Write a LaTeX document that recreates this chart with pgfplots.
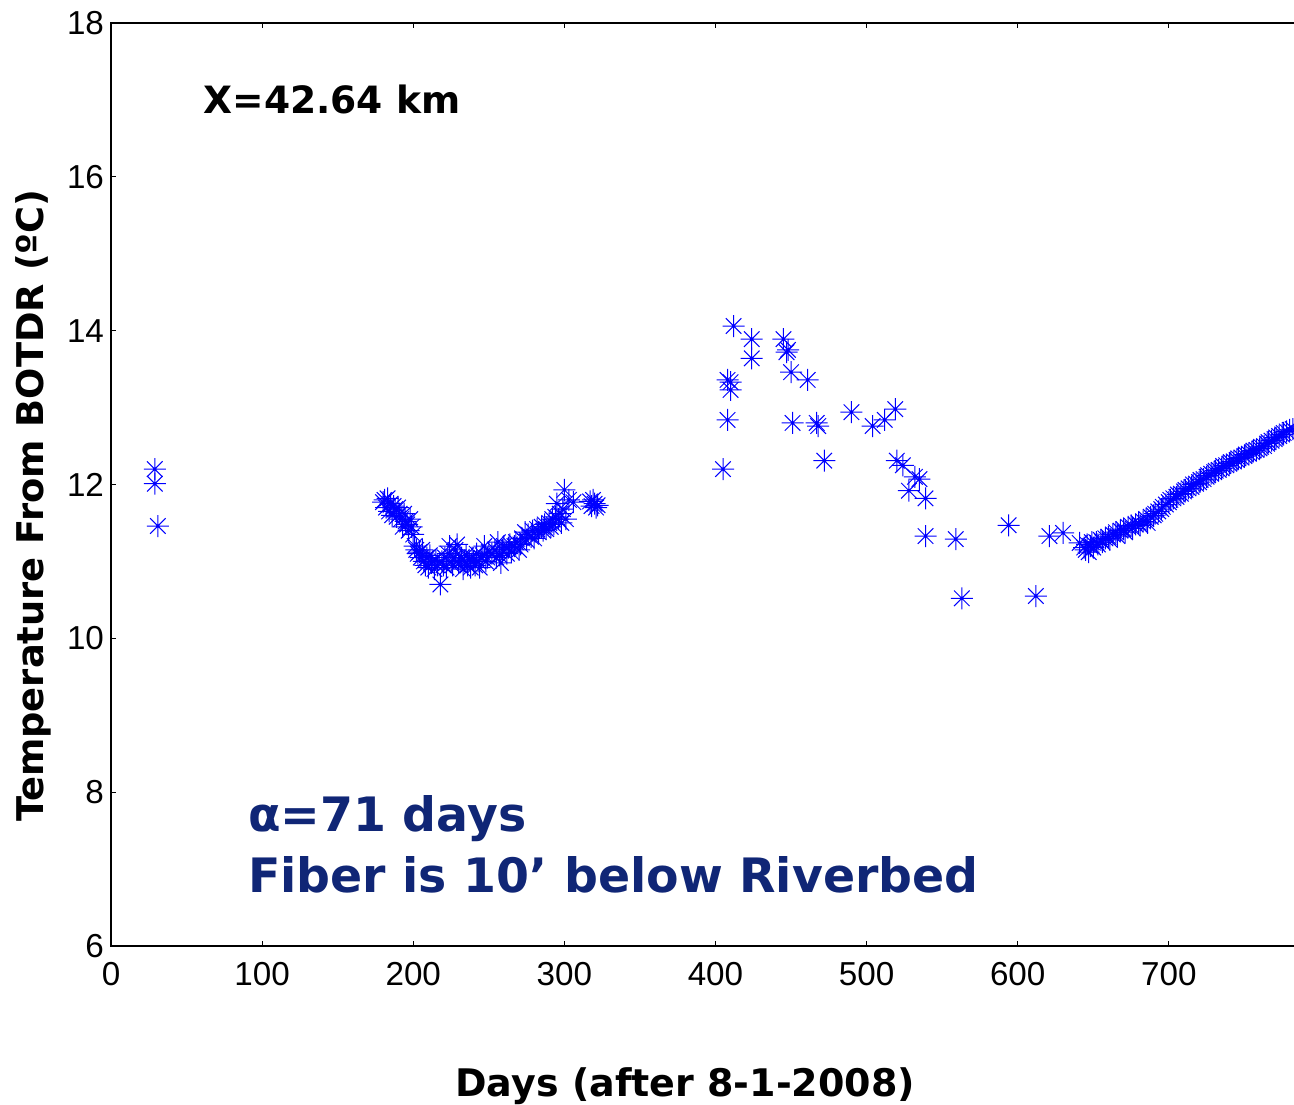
\documentclass[border=0pt]{standalone}
\usepackage{fontspec}
\usepackage{pgfplots}
\pgfplotsset{compat=1.18}
\usetikzlibrary{calc}
\setmainfont{DejaVu Sans}
\newfontfamily\arialf{Liberation Sans}
\definecolor{navy}{RGB}{16,38,118}
\pgfdeclareplotmark{mstar}{%
 \pgfpathmoveto{\pgfqpoint{-\pgfplotmarksize}{0pt}}\pgfpathlineto{\pgfqpoint{\pgfplotmarksize}{0pt}}%
 \pgfpathmoveto{\pgfqpoint{0pt}{-\pgfplotmarksize}}\pgfpathlineto{\pgfqpoint{0pt}{\pgfplotmarksize}}%
 \pgfpathmoveto{\pgfqpoint{-.7071\pgfplotmarksize}{-.7071\pgfplotmarksize}}\pgfpathlineto{\pgfqpoint{.7071\pgfplotmarksize}{.7071\pgfplotmarksize}}%
 \pgfpathmoveto{\pgfqpoint{-.7071\pgfplotmarksize}{.7071\pgfplotmarksize}}\pgfpathlineto{\pgfqpoint{.7071\pgfplotmarksize}{-.7071\pgfplotmarksize}}%
 \pgfusepathqstroke}
\pgfplotstableread{
x y
29 12.20
29 12.01
31 11.46
180 11.77
181 11.80
182 11.70
183 11.82
184 11.65
185 11.75
186 11.60
187 11.72
188 11.68
189 11.58
190 11.70
191 11.62
192 11.55
193 11.45
194 11.62
195 11.52
196 11.48
197 11.40
198 11.55
199 11.45
200 11.35
201 11.20
202 11.15
203 11.10
204 11.12
205 11.05
206 11.15
207 11.00
208 10.95
209 11.05
210 10.92
211 11.08
212 10.98
213 11.00
214 10.90
215 11.02
216 10.95
218 10.70
219 11.00
220 10.95
221 11.05
222 10.92
223 11.10
224 11.20
225 11.00
226 10.95
227 11.05
228 11.15
229 11.22
230 10.98
231 11.00
232 11.05
233 10.90
234 11.00
235 11.08
236 10.95
237 11.02
238 10.92
239 11.05
240 11.00
241 10.95
242 11.10
243 11.00
244 10.92
245 11.05
246 11.08
247 11.20
248 11.00
249 11.05
250 11.12
252 11.10
254 11.15
255 11.05
256 11.25
257 11.08
258 10.98
259 11.15
260 11.20
262 11.10
263 11.18
264 11.22
265 11.12
267 11.20
268 11.25
270 11.15
271 11.22
272 11.30
274 11.38
275 11.28
276 11.35
278 11.32
279 11.40
280 11.30
282 11.42
283 11.38
285 11.45
286 11.40
287 11.48
288 11.42
290 11.50
291 11.45
292 11.55
293 11.48
294 11.58
295 11.75
296 11.55
297 11.62
298 11.50
299 11.68
300 11.93
301 11.55
303 11.80
306 11.77
317 11.78
318 11.72
319 11.80
320 11.75
321 11.70
322 11.73
405 12.20
408 12.84
408 13.36
410 13.33
410 13.23
412 14.06
424 13.89
424 13.64
445 13.89
447 13.72
448 13.75
450 13.46
451 12.80
461 13.36
467 12.80
468 12.76
472 12.31
490 12.94
504 12.76
512 12.84
519 12.98
520 12.31
524 12.25
528 11.92
532 12.10
535 12.07
539 11.82
539 11.33
559 11.29
563 10.52
594 11.47
612 10.55
621 11.33
630 11.37
641 11.24
644 11.18
645 11.15
646 11.22
647 11.12
648 11.20
649 11.25
650 11.18
652 11.25
653 11.22
655 11.28
656 11.25
658 11.30
660 11.32
661 11.28
663 11.35
665 11.38
666 11.33
668 11.40
670 11.42
671 11.38
673 11.45
675 11.47
676 11.43
678 11.48
680 11.50
681 11.47
683 11.52
685 11.55
686 11.50
688 11.58
690 11.60
691 11.62
693 11.65
695 11.68
696 11.71
698 11.74
700 11.77
701 11.80
703 11.82
705 11.84
706 11.87
708 11.88
710 11.91
711 11.93
713 11.95
715 11.97
716 12.00
718 12.01
720 12.03
721 12.06
723 12.07
725 12.10
726 12.12
728 12.14
730 12.16
731 12.18
733 12.19
735 12.21
736 12.24
738 12.25
740 12.27
741 12.29
743 12.30
745 12.32
746 12.34
748 12.35
750 12.37
751 12.39
753 12.40
755 12.42
756 12.44
758 12.45
760 12.47
761 12.49
763 12.50
765 12.53
766 12.55
768 12.57
770 12.59
771 12.61
773 12.63
775 12.65
776 12.67
778 12.69
780 12.71
782 12.72
}\datatable
\begin{document}
\begin{tikzpicture}
\begin{axis}[name=ax,
 scale only axis, width=592pt, height=461.5pt,
 xmin=0, xmax=783.5, ymin=6, ymax=18,
 xtick={0,100,...,700}, ytick={6,8,...,18},
 tick align=inside, major tick length=2.5pt,
 xtick pos=both, ytick pos=left,
 axis line style={line width=0.75pt},
 tick style={line width=0.6pt, black},
 /pgf/number format/assume math mode=true,
 tick label style={font=\arialf\fontsize{16.6}{16.6}\selectfont},
 xticklabel style={yshift=-4.5pt},
 xlabel={Days (after 8-1-2008)},
 ylabel={Temperature From BOTDR (ºC)},
 xlabel style={font=\bfseries\fontsize{19}{19}\selectfont, at={(rel axis cs:0.485,0)}, yshift=-70pt, anchor=center},
 ylabel style={font=\bfseries\fontsize{18.4}{18.4}\selectfont, at={(rel axis cs:0,0.477)}, yshift=39pt, anchor=center},
 clip=false,
]
\addplot[only marks, mark=mstar, mark size=5.5pt, blue, line width=0.5pt] table {\datatable};
\node[anchor=west, inner sep=0pt, font=\bfseries\fontsize{18.8}{18.8}\selectfont] at (axis cs:61,17.0) {X=42.64 km};
\node[anchor=west, inner sep=0pt, font=\bfseries\fontsize{23.7}{23.7}\selectfont, text=navy] at (axis cs:90.5,7.66) {α=71 days};
\node[anchor=west, inner sep=0pt, font=\bfseries\fontsize{23.7}{23.7}\selectfont, text=navy] at (axis cs:90.5,6.92) {Fiber is 10’ below Riverbed};
\end{axis}
\pgfresetboundingbox
\path ($(ax.south west)+(-55.5pt,-79pt)$) rectangle ($(ax.north east)+(-0.5pt,11.5pt)$);
\end{tikzpicture}
\end{document}
